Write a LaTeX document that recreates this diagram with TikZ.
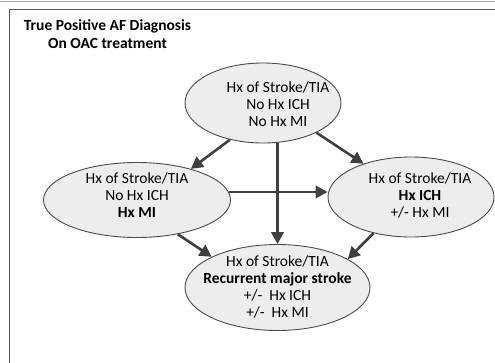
\documentclass[tikz,border=0pt]{standalone}
\usepackage{fontspec}
\setmainfont{Carlito}
\usetikzlibrary{arrows.meta,shapes.geometric}
\definecolor{arrowgray}{HTML}{3F3F3F}
\definecolor{ellfill}{HTML}{EDEDED}
\definecolor{ellline}{HTML}{4A4A4A}
\definecolor{framegray}{HTML}{5A5A5A}
\begin{document}
\begin{tikzpicture}[x=1pt,y=-1pt,
  ell/.style={ellipse, draw=ellline, line width=0.9pt, fill=ellfill, inner sep=0pt},
  txt/.style={align=center, inner sep=0pt, font=\fontsize{15.5}{17}\selectfont, text=black},
  flow/.style={draw=arrowgray, line width=2.6pt, -{Triangle[length=12pt,width=12.5pt]}, arrowgray}
]
\useasboundingbox (0,0) rectangle (495,362);
\clip (0,0) rectangle (495,362);
% frame
\draw[black!35, line width=1pt] (0,1) -- (495,1);
\draw[framegray, line width=1.9pt] (9.5,520) |- (600,9.5);
% title
\node[txt, font=\fontsize{15.5}{18}\selectfont\bfseries] (title) at (107.5,34) {True Positive AF Diagnosis\\On OAC treatment};
% ellipses
\node[ell, minimum width=156pt, minimum height=80pt] (top) at (263,103) {};
\node[ell, minimum width=187pt, minimum height=75pt] (left) at (137,200) {};
\node[ell, minimum width=166pt, minimum height=80pt] (right) at (411,197) {};
\node[ell, minimum width=185pt, minimum height=86pt] (bottom) at (277.5,287.5) {};
% texts
\node[txt] (toptext) at (278,104) {Hx of Stroke/TIA\\No Hx ICH\\No Hx MI};
\node[txt] (lefttext) at (137,195) {Hx of Stroke/TIA\\No Hx ICH\\\textbf{Hx MI}};
\node[txt] (righttext) at (420,195) {Hx of Stroke/TIA\\\textbf{Hx ICH}\\+/- Hx MI};
\node[txt] (bottomtext) at (277.5,287) {Hx of Stroke/TIA\\\textbf{Recurrent major stroke}\\+/-\ \ Hx ICH\\+/-\ \ Hx MI};
% arrows
\draw[flow] (top.228) -- (left.30);
\draw[flow] (top.-29) -- (right.145);
\draw[flow] (top.south -| bottom.north) -- (bottom.north);
\draw[flow] (left.5) -- (left.5 -| right.west);
\draw[flow] (left.-40) -- (bottom.155);
\draw[flow] (right.224) -- (bottom.22);
\end{tikzpicture}
\end{document}
